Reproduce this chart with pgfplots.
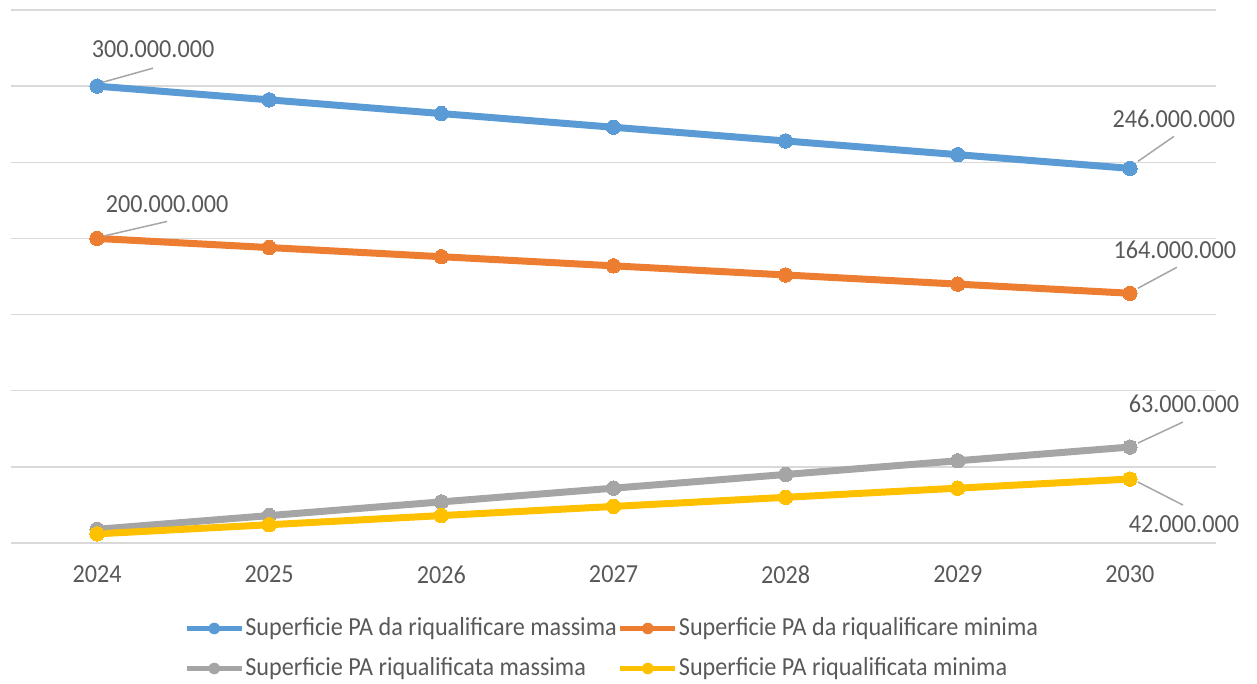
\documentclass[border=0pt]{standalone}
\usepackage{pgfplots}
\pgfplotsset{compat=1.18}
\usepackage{fontspec}
\setmainfont{Carlito}[FakeStretch=0.93]

\definecolor{sblue}{HTML}{5B9BD5}
\definecolor{sorange}{HTML}{ED7D31}
\definecolor{sgray}{HTML}{A5A5A5}
\definecolor{syellow}{HTML}{FFC000}
\definecolor{gridc}{HTML}{D9D9D9}
\definecolor{txt}{HTML}{595959}
\definecolor{leader}{HTML}{A6A6A6}

\pgfplotstableread{
idx blumax aranmin grigio giallo
0 300000000 200000000 9000000 6000000
1 291000000 194000000 18000000 12000000
2 282000000 188000000 27000000 18000000
3 273000000 182000000 36000000 24000000
4 264000000 176000000 45000000 30000000
5 255000000 170000000 54000000 36000000
6 246000000 164000000 63000000 42000000
}\superficie

\begin{document}
\begin{tikzpicture}[
  lbl/.style={font=\fontsize{13}{15}\selectfont, text=txt, inner sep=0pt},
  ldr/.style={draw=leader, line width=0.75pt}
]
\begin{axis}[
  at={(0,0)}, anchor=south west,
  scale only axis,
  width=602.5pt, height=266.5pt,
  xmin=-0.5, xmax=6.5,
  ymin=0, ymax=350000000,
  xtick={0,...,6},
  xticklabels={2024,2025,2026,2027,2028,2029,2030},
  ytick={0,50000000,...,350000000},
  yticklabels={},
  ymajorgrids,
  grid style={gridc, line width=0.75pt},
  axis line style={draw=none},
  major tick length=0pt,
  tick style={draw=none},
  xticklabel style={font=\fontsize{13}{15}\selectfont, text=txt, yshift=-8pt},
  /pgf/number format/assume math mode=true,
  clip=false,
  legend columns=2,
  legend style={
    at={(0.498,0)}, anchor=center, yshift=-52.75pt,
    draw=none, fill=none,
    font=\fontsize{13}{15}\selectfont,
    text=txt,
    column sep=0.5pt,
    row sep=7.5pt,
    nodes={inner sep=0pt, text height=9.5pt, text depth=3pt},
    cells={anchor=west},
  },
  legend image code/.code={
    \draw[#1, mark=none, line width=2.6pt] (0pt,0pt) -- (27.5pt,0pt);
    \fill[#1, draw=none] (13.75pt,0pt) circle (2.9pt);
  },
  every axis plot/.append style={line width=3.5pt, mark=*, mark size=3.6pt},
]
\addplot[sblue, mark options={fill=sblue, draw=sblue, line width=0pt}] table[x=idx, y=blumax] {\superficie};
\addlegendentry{Superficie PA da riqualificare massima}
\addplot[sorange, mark options={fill=sorange, draw=sorange, line width=0pt}] table[x=idx, y=aranmin] {\superficie};
\addlegendentry{Superficie PA da riqualificare minima}
\addplot[sgray, mark options={fill=sgray, draw=sgray, line width=0pt}] table[x=idx, y=grigio] {\superficie};
\addlegendentry{Superficie PA riqualificata massima}
\addplot[syellow, mark options={fill=syellow, draw=syellow, line width=0pt}] table[x=idx, y=giallo] {\superficie};
\addlegendentry{Superficie PA riqualificata minima}

% value labels with leader lines at the first and last years
\draw[ldr] ([xshift=3pt,yshift=2pt]axis cs:0,300000000) -- ([xshift=28pt,yshift=9pt]axis cs:0,300000000);
\node[lbl] at ([xshift=28pt,yshift=18.5pt]axis cs:0,300000000) {300.000.000};
\draw[ldr] ([xshift=2.5pt,yshift=1pt]axis cs:0,200000000) -- ([xshift=35pt,yshift=8.5pt]axis cs:0,200000000);
\node[lbl] at ([xshift=35pt,yshift=17pt]axis cs:0,200000000) {200.000.000};
\draw[ldr] ([xshift=4pt,yshift=3.5pt]axis cs:6,246000000) -- ([xshift=22pt,yshift=16pt]axis cs:6,246000000);
\node[lbl] at ([xshift=22pt,yshift=25pt]axis cs:6,246000000) {246.000.000};
\draw[ldr] ([xshift=4pt,yshift=2.5pt]axis cs:6,164000000) -- ([xshift=23.5pt,yshift=13pt]axis cs:6,164000000);
\node[lbl] at ([xshift=22.5pt,yshift=21.5pt]axis cs:6,164000000) {164.000.000};
\draw[ldr] ([xshift=4pt,yshift=2pt]axis cs:6,63000000) -- ([xshift=26.5pt,yshift=12.5pt]axis cs:6,63000000);
\node[lbl] at ([xshift=27pt,yshift=21.5pt]axis cs:6,63000000) {63.000.000};
\draw[ldr] ([xshift=4pt,yshift=-1.5pt]axis cs:6,42000000) -- ([xshift=26.5pt,yshift=-13pt]axis cs:6,42000000);
\node[lbl] at ([xshift=27pt,yshift=-22.5pt]axis cs:6,42000000) {42.000.000};
\end{axis}
\pgfresetboundingbox
\path (-5.5pt,-70.5pt) rectangle (623pt,271.5pt);
\end{tikzpicture}
\end{document}
